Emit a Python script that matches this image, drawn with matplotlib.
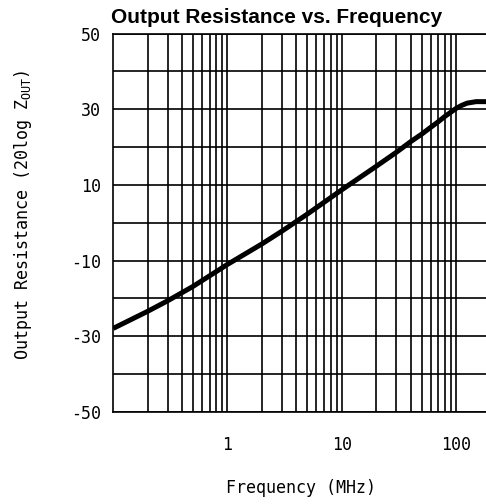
import matplotlib
matplotlib.use('Agg')
import matplotlib.pyplot as plt
from matplotlib.ticker import LogLocator, NullFormatter

# Output resistance (20log Zout) vs. frequency
freq_mhz = [0.1, 0.2, 0.3, 0.5, 1, 2, 3, 5, 10, 20, 30, 40, 50, 60, 70, 80, 90, 100,
            112, 125, 150, 200]
zout_db = [-27.9, -23.4, -20.6, -16.8, -11.0, -5.6, -2.2, 2.3, 8.7, 14.9, 18.6, 21.4, 23.4,
           25.2, 26.7, 28.1, 29.2, 30.2, 31.0, 31.6, 32.0, 32.0]

x_ticks = [1, 10, 100]
x_labels = ['1', '10', '100']
y_ticks = [-50, -40, -30, -20, -10, 0, 10, 20, 30, 40, 50]
y_labels = ['-50', '', '-30', '', '-10', '', '10', '', '30', '', '50']

mono = 'DejaVu Sans Mono'

fig = plt.figure(figsize=(4.86, 5.04), dpi=100)
ax = fig.add_axes([0.233, 0.1825, 0.776, 0.751])

ax.plot(freq_mhz, zout_db, color='black', linewidth=3.6, solid_capstyle='butt',
        solid_joinstyle='round', zorder=3)

ax.set_xscale('log')
ax.set_xlim(0.1, 200)
ax.set_ylim(-50, 50)

ax.set_xticks(x_ticks)
ax.set_xticklabels(x_labels, fontfamily=mono, fontsize=12)
ax.xaxis.set_minor_locator(LogLocator(base=10, subs=range(2, 10)))
ax.xaxis.set_minor_formatter(NullFormatter())
ax.set_yticks(y_ticks)
ax.set_yticklabels(y_labels, fontfamily=mono, fontsize=12)

ax.tick_params(axis='both', which='both', length=0)
ax.tick_params(axis='x', pad=17)
ax.tick_params(axis='y', pad=9)

ax.grid(True, which='both', color='black', linewidth=1.2)
for s in ax.spines.values():
    s.set_linewidth(1.2)

fig.text(0.619, 1 - 488 / 504, 'Frequency (MHz)', ha='center', va='center',
         fontfamily=mono, fontsize=12)
fig.text(23 / 486, 1 - 215 / 504, r'Output Resistance (20log Z$_\mathregular{OUT}$)',
         ha='center', va='center', rotation=90, fontfamily=mono, fontsize=12)
fig.text(277 / 486, 1 - 22.7 / 504, 'Output Resistance vs. Frequency', ha='center',
         va='baseline', fontfamily='Liberation Sans', fontweight='bold', fontsize=15)

fig.savefig('out.png', dpi=100)
